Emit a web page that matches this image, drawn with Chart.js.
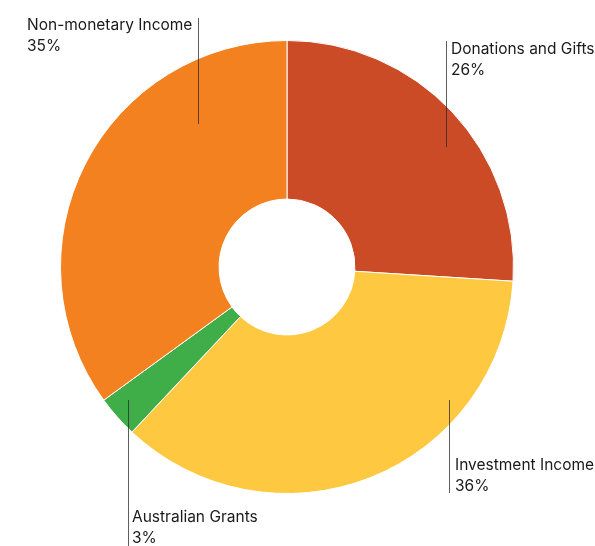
<!DOCTYPE html>
<html lang="en">
<head>
    <meta charset="UTF-8">
    <title>Income Sources</title>
    <script src="https://cdn.jsdelivr.net/npm/chart.js"></script>
    <style>
        html, body { margin: 0; padding: 0; background: #fff; }
        #wrap { width: 595px; height: 546px; position: relative; }
    </style>
</head>
<body>
    <div id="wrap"><canvas id="pieCanvas"></canvas></div>

    <script>
        // Slices in drawing order, clockwise from 12 o'clock
        const categories = ['Donations and Gifts', 'Investment Income', 'Australian Grants', 'Non-monetary Income'];
        const shares = [26, 36, 3, 35];
        const sliceColors = ['#cc4b27', '#fec840', '#3fae49', '#f48120'];

        // Where each label sits and where its leader line runs
        const labelSpots = [
            { tx: 451, ty: 49, lx: 446.5, y1: 41, y2: 147 },
            { tx: 455, ty: 465, lx: 449.5, y1: 400, y2: 493 },
            { tx: 132, ty: 517, lx: 128.5, y1: 400, y2: 546 },
            { tx: 27, ty: 25, lx: 198.5, y1: 18, y2: 124 }
        ];

        const labelPlugin = {
            id: 'leaderLabels',
            afterDatasetsDraw(chart) {
                const c = chart.ctx;
                c.save();
                labelSpots.forEach((s, i) => {
                    c.strokeStyle = 'rgba(40,40,40,0.75)';
                    c.lineWidth = 1;
                    c.beginPath();
                    c.moveTo(s.lx, s.y1);
                    c.lineTo(s.lx, s.y2);
                    c.stroke();

                    c.fillStyle = '#1a1a1a';
                    c.font = '15.5px Inter';
                    c.textBaseline = 'middle';
                    c.textAlign = 'left';
                    c.fillText(categories[i], s.tx, s.ty);
                    c.fillText(shares[i] + '%', s.tx, s.ty + 21.5);
                });
                c.restore();
            }
        };

        const ctx = document.getElementById('pieCanvas').getContext('2d');
        const chart = new Chart(ctx, {
            type: 'doughnut',
            data: {
                labels: categories,
                datasets: [{
                    data: shares,
                    backgroundColor: sliceColors,
                    borderColor: '#fff',
                    borderWidth: 1
                }]
            },
            options: {
                responsive: true,
                maintainAspectRatio: false,
                animation: false,
                cutout: '30%',
                layout: { padding: { left: 60, right: 81, top: 40, bottom: 52 } },
                plugins: {
                    legend: { display: false },
                    tooltip: { enabled: false }
                }
            },
            plugins: [labelPlugin]
        });
    </script>
</body>
</html>
